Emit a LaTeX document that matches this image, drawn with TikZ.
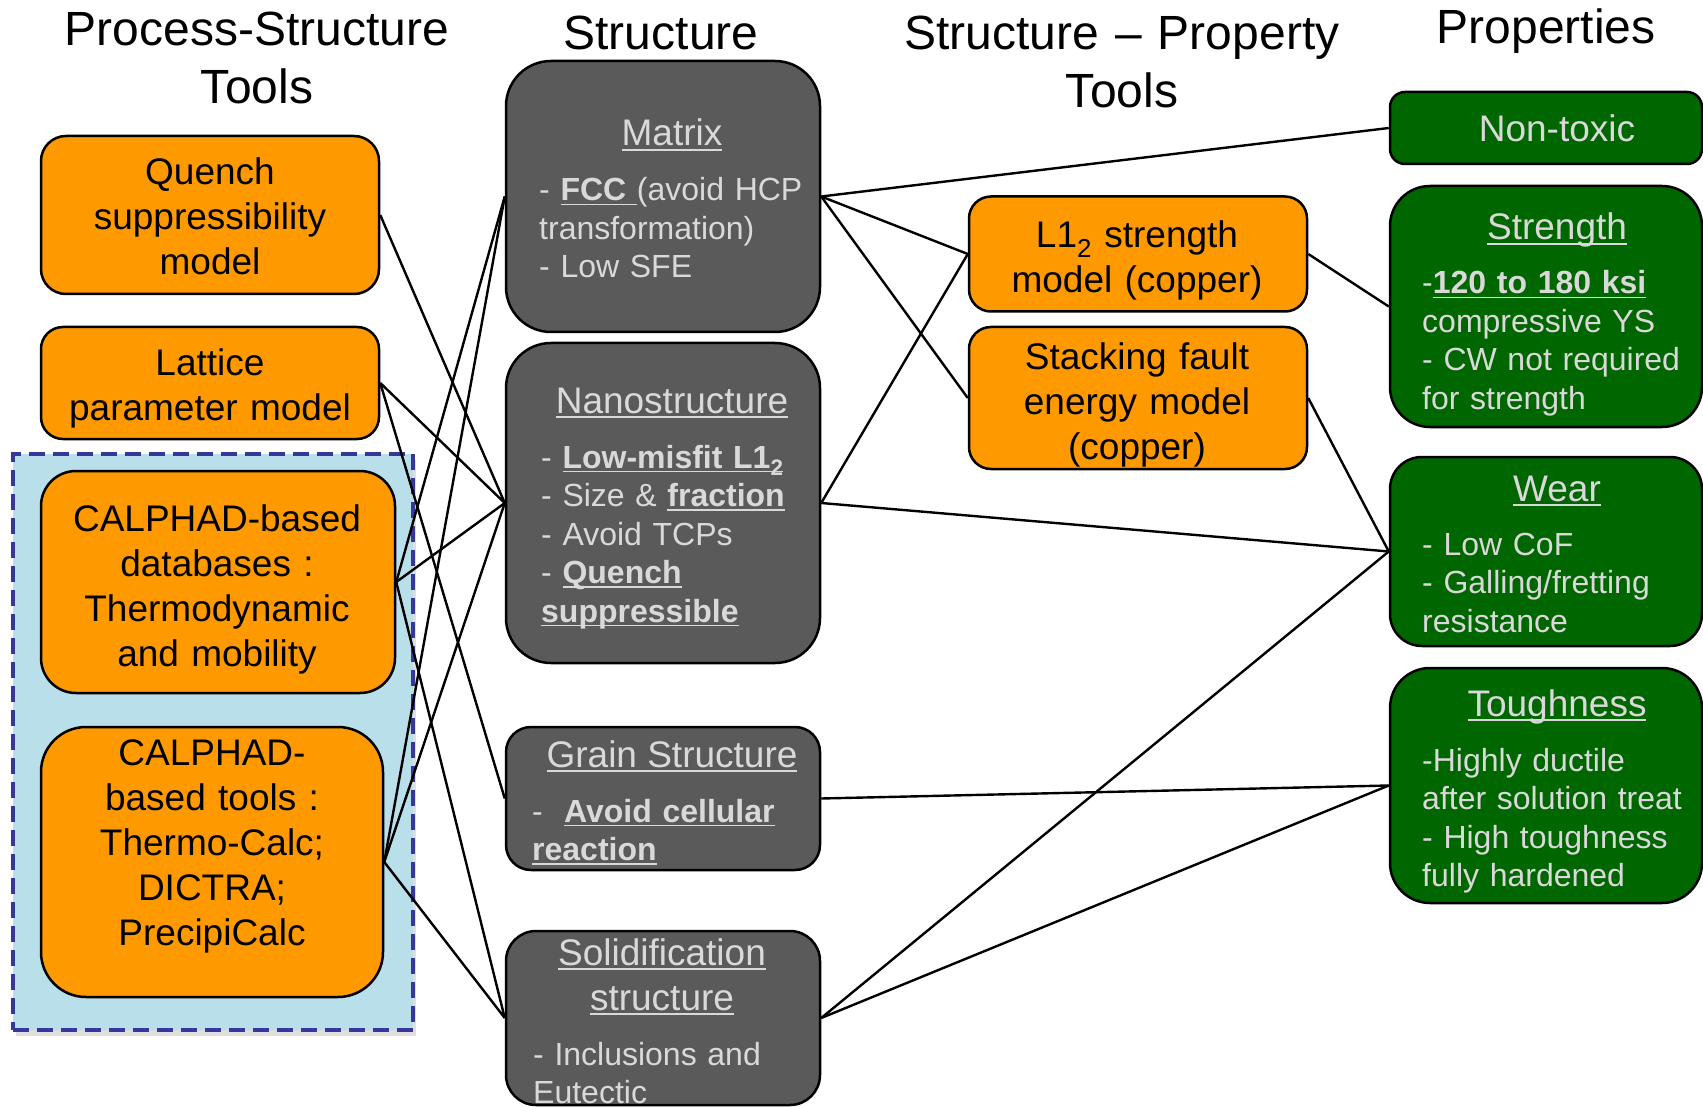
\documentclass[tikz,border=0pt]{standalone}
\usepackage{fontspec}
\setmainfont{Liberation Sans}
\usetikzlibrary{shadows}

\definecolor{toolorange}{RGB}{255,153,0}
\definecolor{structgray}{RGB}{90,90,90}
\definecolor{propgreen}{RGB}{0,102,0}
\definecolor{paletext}{RGB}{217,217,217}
\definecolor{calphadblue}{RGB}{185,223,234}
\definecolor{dashblue}{RGB}{55,55,155}

\newcommand{\undl}[1]{\leavevmode\setbox0=\hbox{#1}\rlap{\rule[-0.14em]{\wd0}{0.06em}}\box0}

\tikzset{
	every box/.style={
		draw=black,
		line width=2.5pt,
		inner sep=0pt
	},
	tool box/.style={every box, fill=toolorange},
	struct box/.style={every box, fill=structgray},
	prop box/.style={every box, fill=propgreen},
	head/.style={
		anchor=base,
		text width=520pt,
		align=center,
		inner sep=0pt,
		font=\fontsize{48}{58}\selectfont
	},
	tool text/.style={
		anchor=base,
		align=center,
		inner sep=0pt,
		font=\fontsize{37}{45}\selectfont
	},
	box title/.style={
		anchor=base,
		align=center,
		inner sep=0pt,
		text=paletext,
		font=\fontsize{37}{45}\selectfont
	},
	box body/.style={
		anchor=base west,
		text width=285pt,
		align=left,
		inner sep=0pt,
		text=paletext,
		font=\fontsize{32}{38.5}\selectfont
	},
	link/.style={line width=2.4pt},
}

\begin{document}
\begin{tikzpicture}[x=1pt, y=-1pt]
\useasboundingbox (0,0) rectangle (1703,1107);

% CALPHAD group
\node [draw=dashblue, fill=calphadblue, line width=3.4pt, dash pattern=on 16pt off 8pt,
	minimum width=400, minimum height=576, inner sep=0pt,
	drop shadow={opacity=0.25, shadow xshift=3pt, shadow yshift=-6pt}] (calphad) at (213,742) {};

% boxes
\foreach \n/\x/\y/\w/\h/\r in {quench/210/215/338/158/25, lattice/210/383/338/112/22,
		calphaddb/218/582/354/222/35, calphadtools/212/862/342/270/45,
		l12/1138/254/338/115/22, sfe/1138/398/338/142/22}
	\node [tool box, minimum width=\w, minimum height=\h, rounded corners=\r] (\n) at (\x,\y) {};

\foreach \n/\x/\y/\w/\h/\r in {matrix/663/196.5/314/271/45, nano/663/503/314/320/45,
		grain/663/798.5/314/143/25, solid/663/1018/314/174/30}
	\node [struct box, minimum width=\w, minimum height=\h, rounded corners=\r] (\n) at (\x,\y) {};

\foreach \n/\x/\y/\w/\h/\r in {nontoxic/1546/128/312/72/15, strength/1546/306.5/312/241/40,
		wear/1546/551.5/312/189/32, tough/1546/785.5/312/235/40}
	\node [prop box, minimum width=\w, minimum height=\h, rounded corners=\r] (\n) at (\x,\y) {};

% links
\foreach \a/\b in {quench/nano, lattice/nano, lattice/grain,
		calphaddb/matrix, calphaddb/nano, calphaddb/solid,
		calphadtools/matrix, calphadtools/nano, calphadtools/solid,
		matrix/nontoxic, matrix/l12, matrix/sfe, nano/l12, nano/wear,
		l12/strength, sfe/wear, grain/tough, solid/wear, solid/tough}
	\draw [link] (\a.east) -- (\b.west);

% column heads
\node [head] (h-process) at (257,46) {Process-Structure\\Tools};
\node [head] (h-structure) at (661,50) {Structure};
\node [head] (h-strprop) at (1122,50) {Structure – Property\\Tools};
\node [head] (h-props) at (1546,44) {Properties};

% tool texts
\node [tool text, text width=320] (quench-t) at (210,185) {Quench\\suppressibility\\model};
\node [tool text, text width=320] (lattice-t) at (210,375) {Lattice\\parameter model};
\node [tool text, text width=340] (calphaddb-t) at (217,531) {CALPHAD-based\\databases :\\Thermodynamic\\and mobility};
\node [tool text, text width=330] (calphadtools-t) at (212,765) {CALPHAD-\\based tools :\\Thermo-Calc;\\DICTRA;\\PrecipiCalc};
\node [tool text, text width=320] (l12-t) at (1137,248) {L1\textsubscript{2} strength\\model (copper)};
\node [tool text, text width=320] (sfe-t) at (1137,369) {Stacking fault\\energy model\\(copper)};

% structure texts
\node [box title] (matrix-h) at (672,146) {\undl{Matrix}};
\node [box body] (matrix-b) at (539,201) {- \undl{\textbf{FCC }}(avoid HCP\\transformation)\\- Low SFE};
\node [box title] (nano-h) at (672,413) {\undl{Nanostructure}};
\node [box body] (nano-b) at (541,468) {- \undl{\textbf{Low-misfit L1\textsubscript{2}}}\\- Size \& \undl{\textbf{fraction}}\\- Avoid TCPs\\- \undl{\textbf{Quench}}\\\undl{\textbf{suppressible}}};
\node [box title] (grain-h) at (672,767) {\undl{Grain Structure}};
\node [box body] (grain-b) at (532,822) {-\ \ \undl{\textbf{Avoid cellular}}\\\undl{\textbf{reaction}}};
\node [box title, text width=300] (solid-h) at (662,965) {\undl{Solidification}\\\undl{structure}};
\node [box body] (solid-b) at (533,1065) {- Inclusions and\\Eutectic};

% property texts
\node [box title] (nontoxic-h) at (1557,142) {Non-toxic};
\node [box title] (strength-h) at (1557,240) {\undl{Strength}};
\node [box body, text width=275] (strength-b) at (1422,294) {-\undl{\textbf{120 to 180 ksi}}\\compressive YS\\- CW not required\\for strength};
\node [box title] (wear-h) at (1557,501) {\undl{Wear}};
\node [box body, text width=275] (wear-b) at (1422,555) {- Low CoF\\- Galling/fretting\\resistance};
\node [box title] (tough-h) at (1557,716) {\undl{Toughness}};
\node [box body, text width=275] (tough-b) at (1422,771) {-Highly ductile\\after solution treat\\- High toughness\\fully hardened};

\end{tikzpicture}
\end{document}
